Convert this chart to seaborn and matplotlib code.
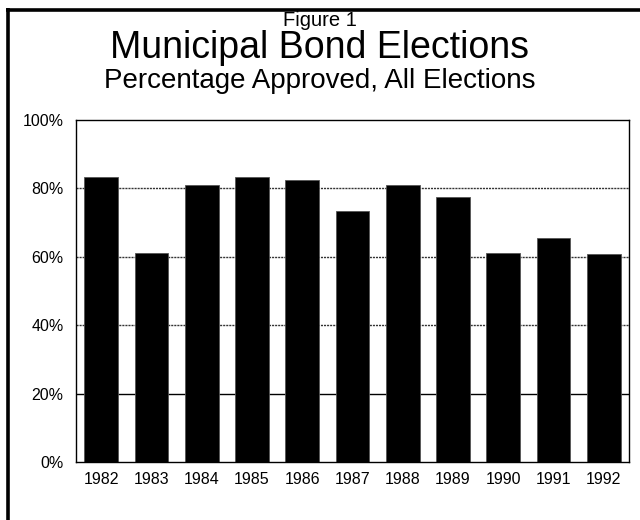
import matplotlib
matplotlib.use("Agg")
import matplotlib.pyplot as plt
import seaborn as sns
import pandas as pd
from matplotlib.lines import Line2D
from matplotlib.ticker import FuncFormatter

years = ["1982", "1983", "1984", "1985", "1986", "1987", "1988", "1989", "1990", "1991", "1992"]
approved = [83.2, 61.0, 80.9, 83.2, 82.6, 73.3, 80.9, 77.4, 61.2, 65.5, 60.8]
yticks = [0, 20, 40, 60, 80, 100]

sns.set_theme(style="white")
plt.rcParams['font.family'] = ['Liberation Sans', 'DejaVu Sans']
plt.rcParams['text.color'] = 'black'
plt.rcParams['xtick.color'] = 'black'
plt.rcParams['ytick.color'] = 'black'

df = pd.DataFrame({"year": years, "pct": approved})

W, H = 640, 520
fig = plt.figure(figsize=(6.4, 5.2), dpi=100)
ax = fig.add_axes([76/W, 1 - 462/H, (629-76)/W, (462-120)/H])

# gridlines
for v in [40, 60, 80]:
    ax.axhline(v, color="#333333", lw=1.0, ls=(0, (1.5, 0.7)), zorder=0)
ax.axhline(20, color="black", lw=1.0, zorder=0)

sns.barplot(data=df, x="year", y="pct", color="black", width=0.67,
            edgecolor="#555555", linewidth=0.6, ax=ax, zorder=2, saturation=1)

ax.set_ylim(0, 100)
ax.set_xlim(-0.5, len(years) - 0.5)
ax.set_yticks(yticks)
ax.yaxis.set_major_formatter(FuncFormatter(lambda v, p: f"{int(v)}%"))
ax.set_xlabel("")
ax.set_ylabel("")
ax.tick_params(axis="y", length=0, labelsize=11.5, colors="black", pad=9)
ax.tick_params(axis="x", length=0, labelsize=11.5, colors="black", pad=7)
for s in ax.spines.values():
    s.set_visible(True)
    s.set_color("black")
    s.set_linewidth(1.0)

fig.text(0.5, 1 - 20/H, "Figure 1", ha="center", va="center", fontsize=14.5)
fig.text(0.5, 1 - 48/H, "Municipal Bond Elections", ha="center", va="center", fontsize=27)
fig.text(0.5, 1 - 81/H, "Percentage Approved, All Elections", ha="center", va="center", fontsize=20)

# page frame (top and left edges visible)
fig.lines.append(Line2D([6/W, 1.0], [1 - 9.5/H, 1 - 9.5/H], transform=fig.transFigure,
                        color="black", lw=2.6, solid_capstyle="butt"))
fig.lines.append(Line2D([7.5/W, 7.5/W], [1 - 8/H, 0.0], transform=fig.transFigure,
                        color="black", lw=2.6, solid_capstyle="butt"))

fig.savefig("out.png", dpi=100, facecolor="white")
